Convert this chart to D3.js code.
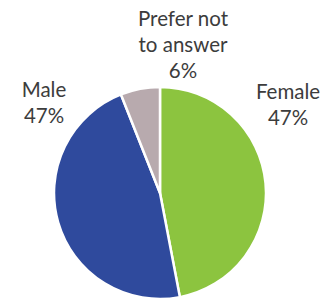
<!DOCTYPE html>
<html><head><meta charset="utf-8">
<script src="https://cdn.jsdelivr.net/npm/d3@7"></script>
<style>html,body{margin:0;padding:0;background:#fff;}svg{display:block;}</style>
</head><body>
<script>
const categories = ["Female", "Male", "Prefer not to answer"];
const values = [47, 47, 6];
const labelLines = [["Female", "47%"], ["Male", "47%"], ["Prefer not", "to answer", "6%"]];
const colors = ["#8cc43f", "#2f4a9d", "#b8aaae"];

const W = 322, H = 301;
const cx = 160, cy = 193, r = 106;
const svg = d3.select("body").append("svg").attr("width", W).attr("height", H);
const pie = d3.pie().sort(null).value(d => d)(values);
const arc = d3.arc().innerRadius(0).outerRadius(r);
const g = svg.append("g").attr("transform", `translate(${cx},${cy})`);
g.selectAll("path").data(pie).join("path")
  .attr("d", arc)
  .attr("fill", (d, i) => colors[i])
  .attr("stroke", "#fff").attr("stroke-width", 2.5).attr("stroke-linejoin", "round");

// label anchors (centre x, first baseline y)
const labelPos = [[288, 99], [44, 97], [183, 26]];
const lineH = 26;
labelLines.forEach((lines, i) => {
  const t = svg.append("text")
    .attr("text-anchor", "middle")
    .attr("font-family", "Lato, 'Open Sans', sans-serif")
    .attr("font-size", 20.5)
    .attr("fill", "#3c3c3c");
  lines.forEach((s, j) => {
    t.append("tspan").attr("x", labelPos[i][0]).attr("y", labelPos[i][1] + j * lineH).text(s);
  });
});
</script>
</body></html>
